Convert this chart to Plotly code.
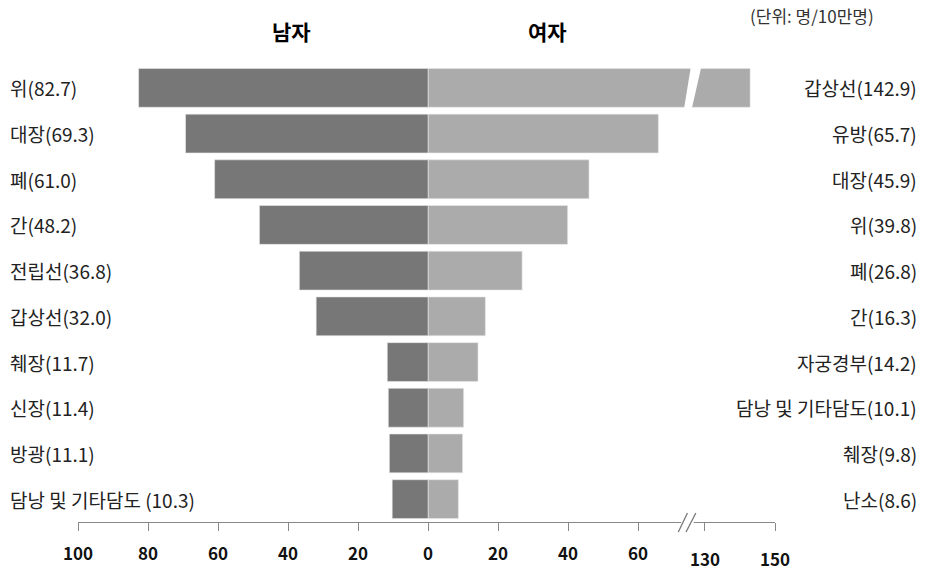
import plotly.graph_objects as go

# ---- data ----
male_sites = ["위", "대장", "폐", "간", "전립선", "갑상선", "췌장", "신장", "방광", "담낭 및 기타담도 "]
male_vals = [82.7, 69.3, 61.0, 48.2, 36.8, 32.0, 11.7, 11.4, 11.1, 10.3]
female_sites = ["갑상선", "유방", "대장", "위", "폐", "간", "자궁경부", "담낭 및 기타담도", "췌장", "난소"]
female_vals = [142.9, 65.7, 45.9, 39.8, 26.8, 16.3, 14.2, 10.1, 9.8, 8.6]
tick_vals = [-100, -80, -60, -40, -20, 0, 20, 40, 60, 79, 99]
tick_text = ["100", "80", "60", "40", "20", "0", "20", "40", "60", "130", "150"]

BREAK_OFFSET = 51   # values above the axis break are shifted left by this amount
BREAK_AT = 100

def disp(v):
    return v - BREAK_OFFSET if v > BREAK_AT else v

rows = list(range(len(male_vals)))
KFONT = "Noto Sans CJK KR, Malgun Gothic, sans-serif"
NFONT = "Noto Sans CJK KR, sans-serif"

fig = go.Figure()
fig.add_trace(go.Bar(
    y=rows, x=[-v for v in male_vals], orientation="h",
    marker=dict(color="#777777", line=dict(color="#e8e8e8", width=0.6)),
    hoverinfo="skip", showlegend=False))
fig.add_trace(go.Bar(
    y=rows, x=[disp(v) for v in female_vals], orientation="h",
    marker=dict(color="#ababab", line=dict(color="#e8e8e8", width=0.6)),
    hoverinfo="skip", showlegend=False))

L, R, T, B = 78, 150, 65, 48
W, H = 925, 570
pw = W - L - R
ph = H - T - B

def py(pixel_y):
    return (H - B - pixel_y) / ph

annotations = []
for i, (s, v) in enumerate(zip(male_sites, male_vals)):
    annotations.append(dict(x=(8 - L) / pw, xref="paper", y=i, yref="y",
                            text=f"{s}({v:.1f})", showarrow=False, xanchor="left", yanchor="middle",
                            font=dict(family=KFONT, size=19, color="#222222")))
for i, (s, v) in enumerate(zip(female_sites, female_vals)):
    annotations.append(dict(x=(919 - L) / pw, xref="paper", y=i, yref="y",
                            text=f"{s}({v:.1f})", showarrow=False, xanchor="right", yanchor="middle",
                            font=dict(family=KFONT, size=19, color="#222222")))
# headers
annotations.append(dict(x=-39, xref="x", y=py(31), yref="paper", yanchor="middle",
                        text="<b>남자</b>", showarrow=False,
                        font=dict(family=KFONT, size=21, color="#000000")))
annotations.append(dict(x=34, xref="x", y=py(31), yref="paper", yanchor="middle",
                        text="<b>여자</b>", showarrow=False,
                        font=dict(family=KFONT, size=21, color="#000000")))
annotations.append(dict(x=(876 - L) / pw, xref="paper", y=py(15), yref="paper",
                        text="(단위: 명/10만명)", showarrow=False, xanchor="right", yanchor="middle",
                        font=dict(family=KFONT, size=17, color="#333333")))

# tick labels (those beyond the break sit slightly lower)
for tv, tt in zip(tick_vals, tick_text):
    dy = 558 if tv > 60 else 552
    annotations.append(dict(x=tv, xref="x", y=py(dy), yref="paper",
                            text=f"<b>{tt}</b>", showarrow=False, yanchor="middle",
                            font=dict(family=NFONT, size=17, color="#111111")))

shapes = []
# white slanted gap in the broken bar
top_i = 0
shapes.append(dict(type="path", xref="x", yref="y",
                   path=f"M 75.0 {top_i - 0.47} L 78.0 {top_i - 0.47} L 75.2 {top_i + 0.47} L 73.0 {top_i + 0.47} Z",
                   fillcolor="white", line=dict(width=0), layer="above"))
# axis break marks
pix = 1.0 / ph
shapes.append(dict(type="rect", xref="x", yref="paper", x0=72.2, x1=75.8,
                   y0=-3 * pix, y1=3 * pix, fillcolor="white", line=dict(width=0), layer="above"))
shapes.append(dict(type="line", xref="x", yref="paper", x0=71.4, x1=74.0,
                   y0=-10 * pix, y1=9 * pix, line=dict(color="#777777", width=1.3), layer="above"))
shapes.append(dict(type="line", xref="x", yref="paper", x0=73.6, x1=76.4,
                   y0=-10 * pix, y1=9 * pix, line=dict(color="#777777", width=1.3), layer="above"))

fig.update_layout(
    width=W, height=H, margin=dict(l=L, r=R, t=T, b=B),
    paper_bgcolor="white", plot_bgcolor="white",
    barmode="overlay", bargap=0.15,
    xaxis=dict(range=[-100, 99], tickvals=tick_vals, ticktext=[""] * len(tick_vals),
               showgrid=False, zeroline=False, showline=True, linecolor="#888888", linewidth=1,
               ticks="outside", ticklen=8, tickcolor="#888888", fixedrange=True),
    yaxis=dict(range=[9.5, -0.5], showticklabels=False, showgrid=False, zeroline=False,
               showline=False, ticks=""),
    annotations=annotations, shapes=shapes,
)

fig.write_html("out.html")
